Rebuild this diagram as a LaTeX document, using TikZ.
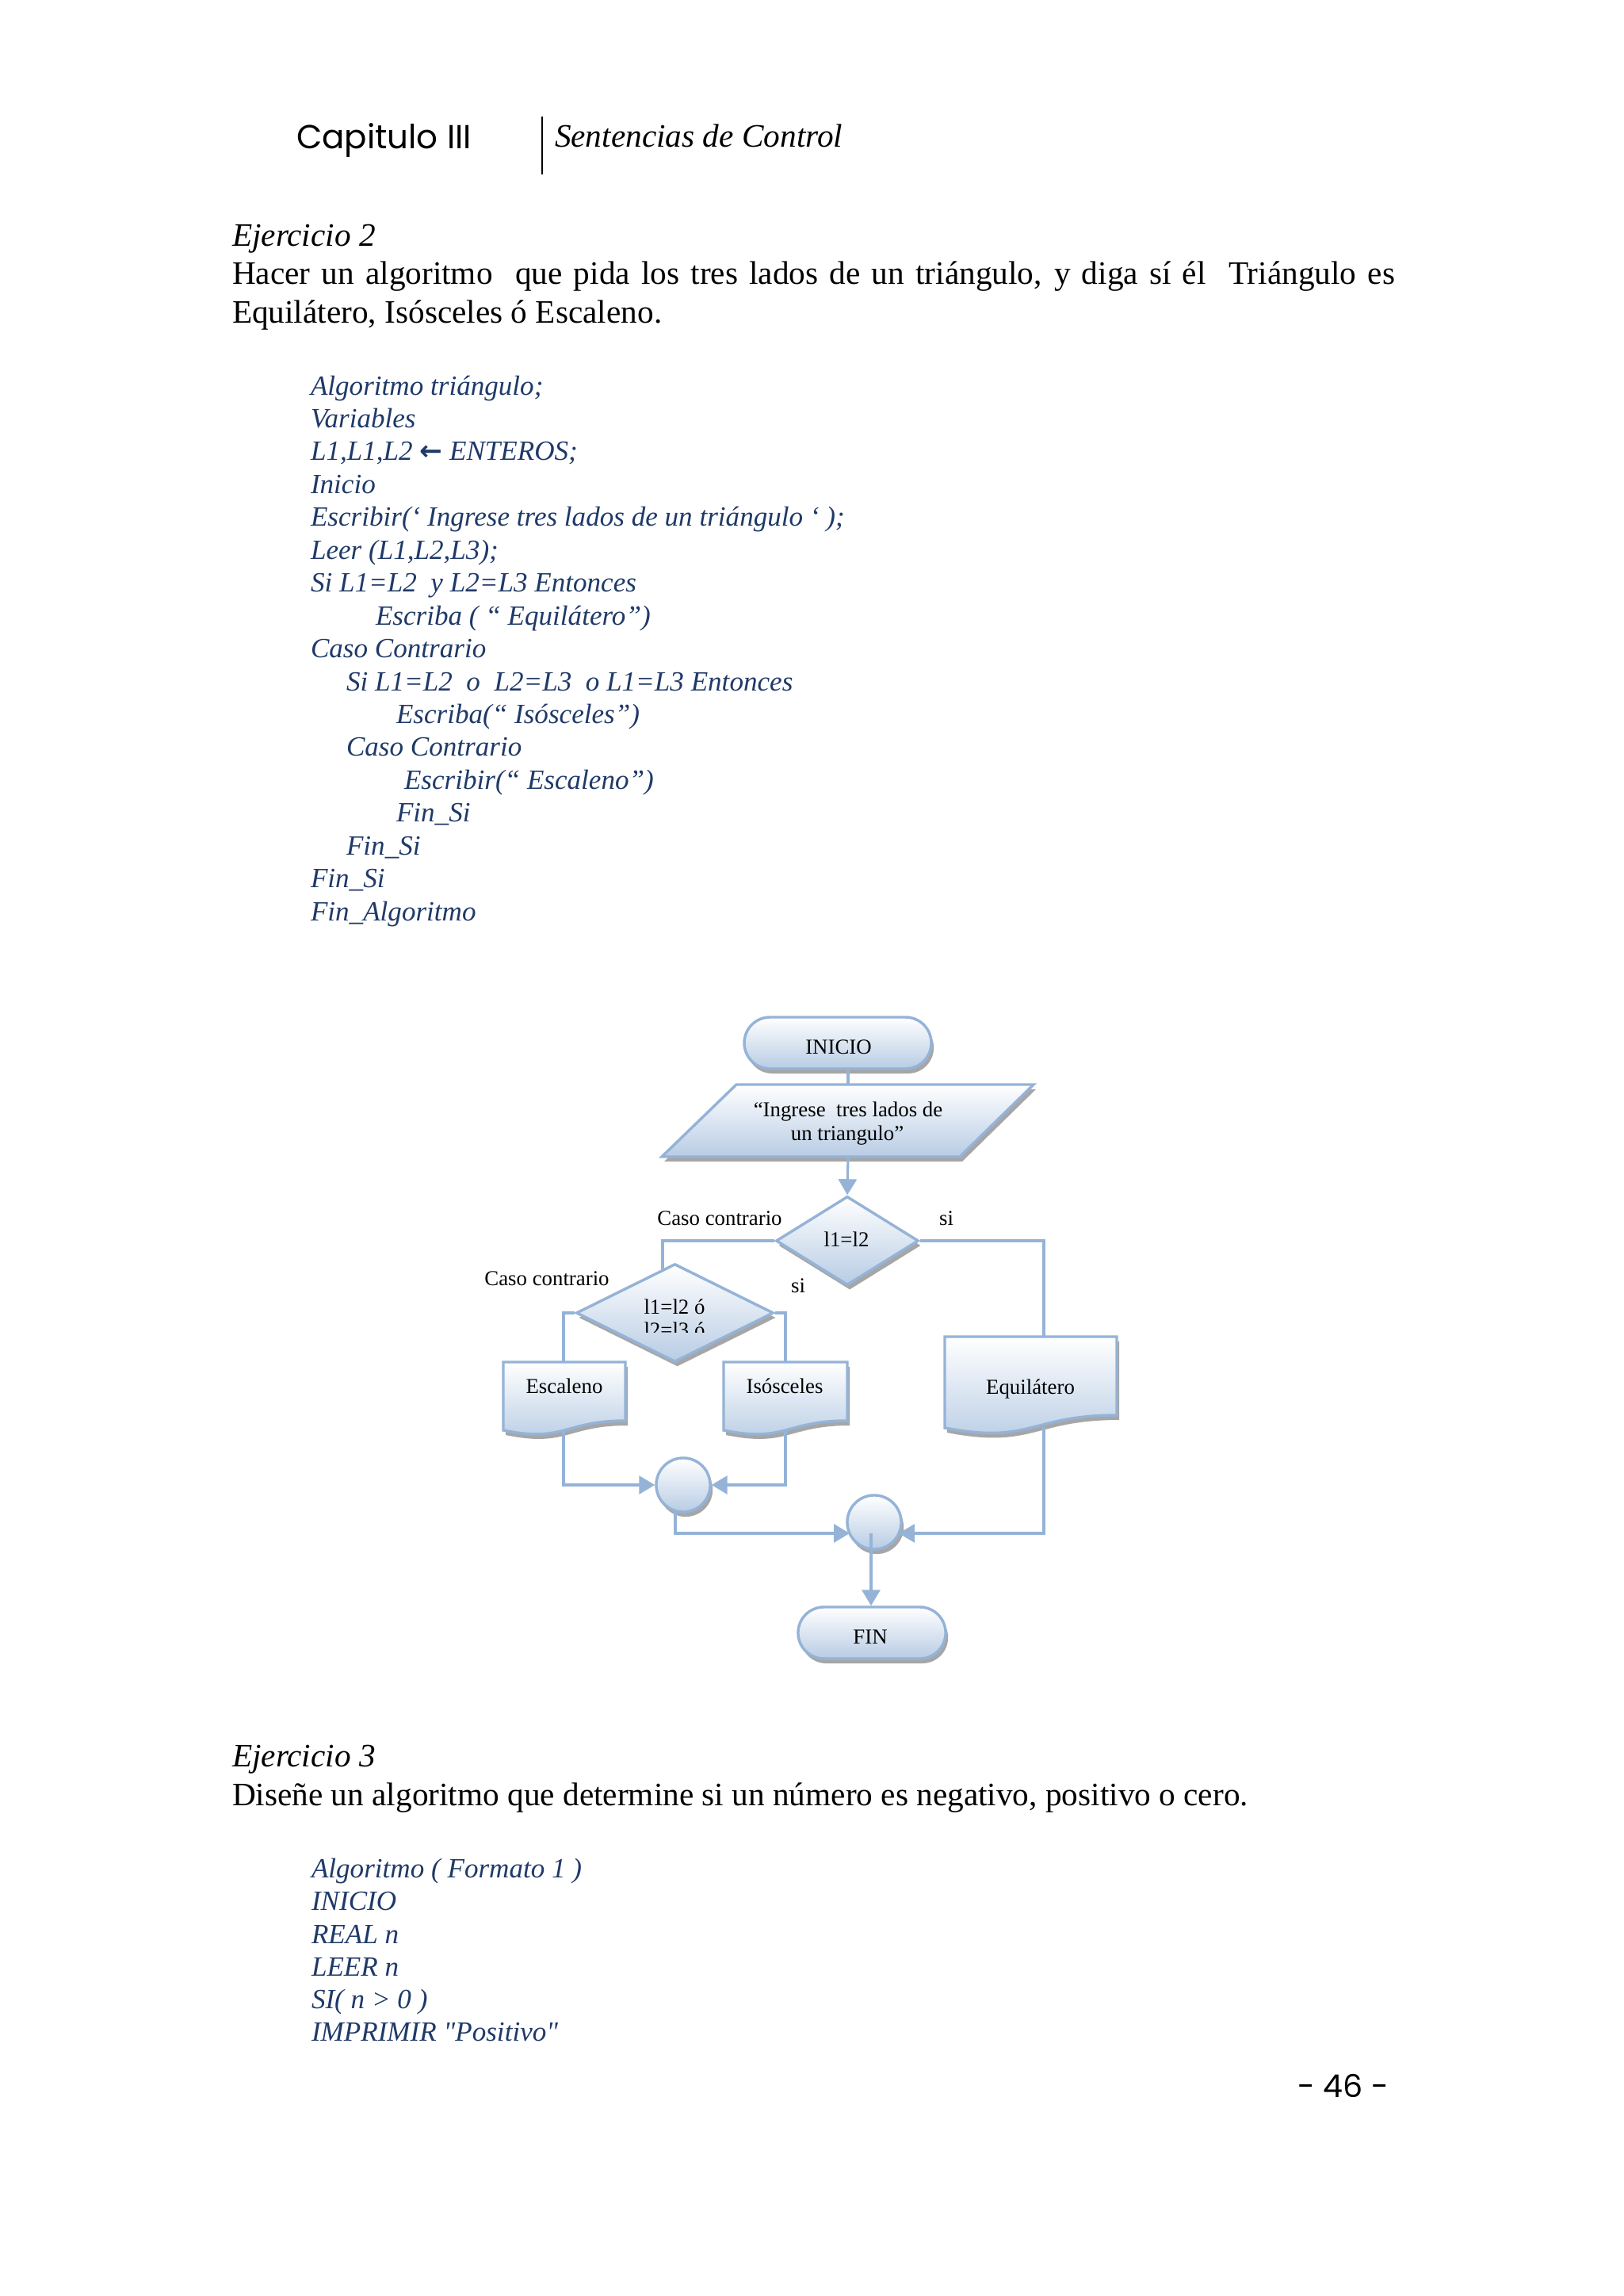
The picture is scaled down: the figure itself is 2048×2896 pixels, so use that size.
\documentclass[tikz,border=0pt]{standalone}
\usepackage{fontspec}
\setmainfont{Liberation Serif}[Ligatures=TeXOff]
\newfontfamily\hdrfont{Poppins}
\newfontfamily\symfont{DejaVu Sans}
\usetikzlibrary{arrows.meta,shapes.geometric,shapes.misc,shadows}
\definecolor{lineblue}{HTML}{95B3D7}
\definecolor{fillblue}{HTML}{B8CCE4}
\definecolor{shadowgray}{HTML}{A6A6A6}
\definecolor{codeblue}{HTML}{1F3A68}
\newcommand\fcfont{\fontsize{7.8}{9}\selectfont}
\newcommand\codefont{\fontsize{10.2}{12}\selectfont\itshape\color{codeblue}}
\newcommand\bodyfont{\fontsize{12}{14}\selectfont}
\tikzset{
  txt/.style={anchor=base west, inner sep=0pt, outer sep=0pt},
  code/.style={txt, font=\codefont},
  body/.style={txt, font=\bodyfont},
  fct/.style={anchor=base, inner sep=0pt, outer sep=0pt, font=\fcfont},
  shd/.style={drop shadow={shadow xshift=0.9pt, shadow yshift=-1.75pt, fill=shadowgray, opacity=1}},
  shp/.style={draw=lineblue, line width=1pt, top color=white, bottom color=fillblue},
  shdpath/.style={fill=shadowgray},
  conn/.style={draw=lineblue, line width=0.9pt},
  arr/.style={conn, -{Triangle[length=5.8pt,width=6.7pt]}},
  termbox/.style={shp, shd, rounded rectangle, minimum height=18.9pt, inner sep=0pt},
  decbox/.style={shp, shd, diamond, inner sep=0pt},
  joinbox/.style={shp, shd, circle, minimum size=19.8pt, inner sep=0pt},
}
\begin{document}
\begin{tikzpicture}[x=0.29066pt,y=-0.29066pt]
\useasboundingbox[fill=white] (0,0) rectangle (2048,2896);

% ---------- header ----------
\node[txt, font=\hdrfont\fontsize{12.2}{15}\selectfont] (hcap) at (374,187) {Capitulo III};
\draw[line width=0.6pt] (684,147) -- (684,220);
\node[txt, font=\fontsize{12}{14}\selectfont\itshape] (hsen) at (700,185) {Sentencias de Control};

% ---------- Ejercicio 2 ----------
\node[body, font=\bodyfont\itshape] (ej2) at (293,310) {Ejercicio 2};
\node[body] (ej2a) at (293,358) {\makebox[426.4pt][s]{Hacer un algoritmo\ \ que pida los tres lados de un triángulo, y diga sí él\ \ Triángulo es}};
\node[body] (ej2b) at (293,407) {Equilátero, Isósceles ó Escaleno.};

\node[code] (a0) at (392,498) {Algoritmo triángulo;};
\node[code] (a1) at (392,539.4) {Variables};
\node[code] (a2) at (392,580.9) {L1,L1,L2 {\upshape\symfont\bfseries\fontsize{10}{12}\selectfont ←} ENTEROS;};
\node[code] (a3) at (392,622.3) {Inicio};
\node[code] (a4) at (392,663.8) {Escribir(‘ Ingrese tres lados de un triángulo ‘ );};
\node[code] (a5) at (392,705.2) {Leer (L1,L2,L3);};
\node[code] (a6) at (392,746.6) {Si L1=L2 ~y L2=L3 Entonces};
\node[code] (a7) at (474,788.1) {Escriba ( “ Equilátero”)};
\node[code] (a8) at (392,829.5) {Caso Contrario};
\node[code] (a9) at (437,871) {Si L1=L2 ~o ~L2=L3 ~o L1=L3 Entonces};
\node[code] (a10) at (500,912.4) {Escriba(“ Isósceles”)};
\node[code] (a11) at (437,953.8) {Caso Contrario};
\node[code] (a12) at (510,995.3) {Escribir(“ Escaleno”)};
\node[code] (a13) at (500,1036.7) {Fin\_Si};
\node[code] (a14) at (437,1078.2) {Fin\_Si};
\node[code] (a15) at (392,1119.6) {Fin\_Si};
\node[code] (a16) at (392,1161) {Fin\_Algoritmo};

% ---------- flowchart shapes ----------
\node[termbox, minimum width=68.6pt] (ini) at (1057,1315.5) {};
% parallelogram
\path[shdpath, shift={(3,6)}] (929,1368) -- (1304,1368) -- (1211,1459) -- (835,1459) -- cycle;
\path[shp] (929,1368) -- (1304,1368) -- (1211,1459) -- (835,1459) -- cycle;
\coordinate (part) at (1070,1368);
\coordinate (parb) at (1070,1459);

\node[decbox, minimum width=52.3pt, minimum height=32.6pt] (d1) at (1069,1565) {};
\node[decbox, minimum width=72.4pt, minimum height=36.0pt] (d2) at (851.5,1656) {};

% document boxes
\path[shdpath, shift={(3,6)}] (635,1718) -- (789,1718) -- (789,1792) .. controls (712,1792) and (712,1820) .. (635,1804) -- cycle;
\path[shp] (635,1718) -- (789,1718) -- (789,1792) .. controls (712,1792) and (712,1820) .. (635,1804) -- cycle;
\path[shdpath, shift={(3,6)}] (913,1718) -- (1069,1718) -- (1069,1792) .. controls (991,1792) and (991,1820) .. (913,1804) -- cycle;
\path[shp] (913,1718) -- (1069,1718) -- (1069,1792) .. controls (991,1792) and (991,1820) .. (913,1804) -- cycle;
\path[shdpath, shift={(3,6)}] (1192,1686) -- (1409,1686) -- (1409,1785) .. controls (1300.5,1785) and (1300.5,1822) .. (1192,1801) -- cycle;
\path[shp] (1192,1686) -- (1409,1686) -- (1409,1785) .. controls (1300.5,1785) and (1300.5,1822) .. (1192,1801) -- cycle;
\coordinate (esct) at (711,1718);
\coordinate (escb) at (711,1804);
\coordinate (isot) at (991,1718);
\coordinate (isob) at (991,1804);
\coordinate (eqt) at (1317,1686);
\coordinate (eqb) at (1317,1800);

\node[joinbox] (c1) at (862,1873) {};
\node[joinbox] (c2) at (1103,1920) {};
\node[termbox, minimum width=54.1pt] (fin) at (1100,2059.5) {};

% ---------- connectors ----------
\coordinate (d2in) at (836,1601);
\coordinate (c1out) at (852,1905);
\coordinate (c2w) at (1072,1934);
\coordinate (c2e) at (1134,1934);
\coordinate (c2in) at (1099,1934);
\draw[conn] (ini.south -| part) -- (part);
\draw[arr] (parb) -- (d1.north);
\draw[conn] (d1.west) -| (d2in);
\draw[conn] (d1.east) -| (eqt);
\draw[conn] (d2.west) -| (esct);
\draw[conn] (d2.east) -| (isot);
\draw[arr] (escb) |- (c1.west);
\draw[arr] (isob) |- (c1.east);
\draw[arr] (c1out) |- (c2w);
\draw[arr] (eqb) |- (c2e);
\draw[arr] (c2in) -- (c2in |- fin.north);

% ---------- flowchart texts ----------
\node[fct] (tini) at (1058,1329) {INICIO};
\node[fct] (tp1) at (1070,1408) {“Ingrese\ \ tres lados de};
\node[fct] (tp2) at (1069,1438) {un triangulo”};
\node[fct] (td1) at (1068,1572) {l1=l2};
\node[fct] (td2a) at (851,1657) {l1=l2 ó};
\begin{scope}
\clip (780,1655) rectangle (930,1680);
\node[fct] (td2b) at (851,1686) {l2=l3 ó};
\end{scope}
\node[fct] (lcc1) at (908,1545) {Caso contrario};
\node[fct] (lsi1) at (1194,1545) {si};
\node[fct] (lsi2) at (1007,1630) {si};
\node[fct] (lcc2) at (690,1621) {Caso contrario};
\node[fct] (tesc) at (712,1757) {Escaleno};
\node[fct] (tiso) at (990,1757) {Isósceles};
\node[fct] (teq) at (1300,1758) {Equilátero};
\node[fct] (tfin) at (1098,2073) {FIN};

% ---------- Ejercicio 3 ----------
\node[body, font=\bodyfont\itshape] (ej3) at (293,2228) {Ejercicio 3};
\node[body] (ej3a) at (293,2277) {Diseñe un algoritmo que determine si un número es negativo, positivo o cero.};
\node[code] (b0) at (393,2368) {Algoritmo ( Formato 1 )};
\node[code] (b1) at (393,2409) {INICIO};
\node[code] (b2) at (393,2451) {REAL n};
\node[code] (b3) at (393,2492) {LEER n};
\node[code] (b4) at (393,2533) {SI( n > 0 )};
\node[code] (b5) at (393,2574) {IMPRIMIR "Positivo"};

% ---------- page number ----------
\node[anchor=base east, inner sep=0pt, outer sep=0pt, font=\hdrfont\fontsize{11.5}{14}\selectfont] (pnum) at (1752,2645) {- 46 -};
\end{tikzpicture}
\end{document}
